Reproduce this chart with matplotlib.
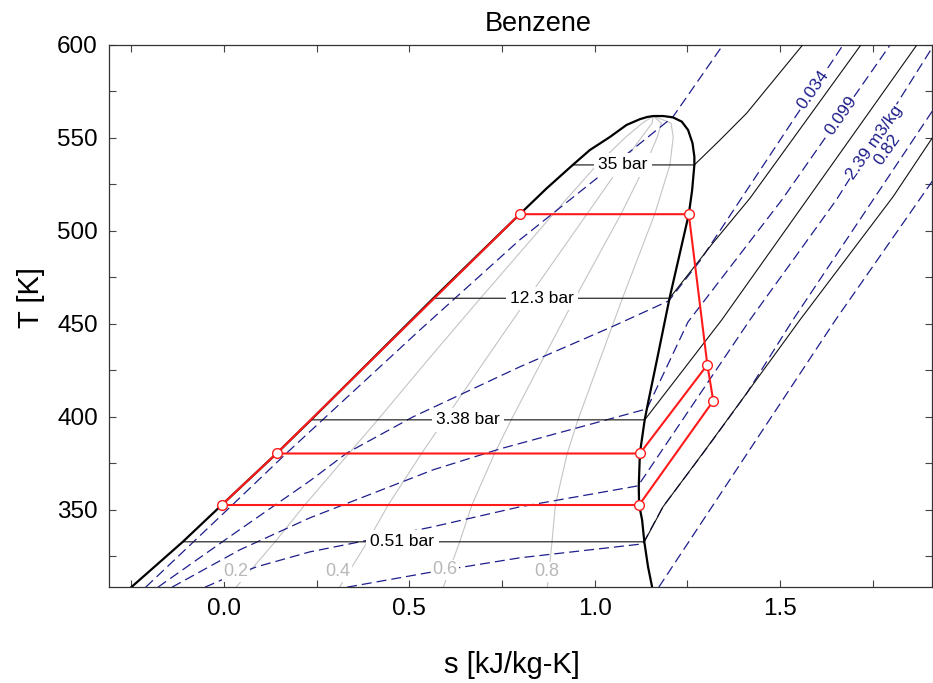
import matplotlib
matplotlib.use("Agg")
import matplotlib.pyplot as plt
from matplotlib.ticker import MultipleLocator, FormatStrFormatter

plt.rcParams['font.family'] = ['Liberation Sans', 'DejaVu Sans']

# ---- saturation dome (liquid branch up to the critical point, then vapour branch down)
s_liq = [-0.255, -0.111, -0.006, 0.142, 0.235, 0.565, 0.798, 0.870, 0.941, 0.987, 1.041,
         1.086, 1.122, 1.142, 1.158]
T_liq = [307.5, 332.8, 352.6, 380.3, 398.4, 463.8, 509.0, 522.8, 535.5, 543.5, 550.5,
         557.0, 560.1, 561.3, 561.8]
s_vap = [1.158, 1.185, 1.211, 1.235, 1.252, 1.264, 1.269, 1.269, 1.263, 1.254, 1.202, 1.168,
         1.144, 1.135, 1.122, 1.119, 1.120, 1.128, 1.134, 1.144, 1.156]
T_vap = [561.8, 561.8, 561.1, 558.8, 554.3, 547.2, 539.9, 535.5, 522.0, 509.0, 463.8, 430.6,
         407.5, 398.4, 380.3, 362.4, 352.6, 344.6, 332.8, 319.4, 307.5]

# ---- constant-quality lines
q_levels = ["0.2", "0.4", "0.6", "0.8"]
q_T = [307.5, 332.8, 352.6, 380.3, 398.4, 430.6, 463.8, 509.0, 535.5, 550.5, 558.0, 561.8]
q_s = [
    [0.029, 0.138, 0.218, 0.337, 0.415, 0.550, 0.692, 0.888, 1.006, 1.084, 1.129, 1.158],
    [0.309, 0.387, 0.443, 0.533, 0.595, 0.705, 0.820, 0.979, 1.072, 1.127, 1.155, 1.158],
    [0.590, 0.636, 0.669, 0.730, 0.775, 0.859, 0.947, 1.071, 1.137, 1.169, 1.180, 1.158],
    [0.872, 0.885, 0.894, 0.926, 0.955, 1.014, 1.075, 1.162, 1.203, 1.212, 1.206, 1.158],
]
q_label_s = [0.032, 0.307, 0.596, 0.870]
q_label_T = [316.8, 316.8, 317.8, 316.8]

# ---- isobars
p_labels = ["35 bar", "12.3 bar", "3.38 bar", "0.51 bar"]
p_s = [
    [0.941, 1.269, 1.338, 1.410, 1.491, 1.561],
    [0.565, 1.202, 1.319, 1.419, 1.718],
    [0.235, 1.135, 1.343, 1.869],
    [-0.111, 1.134, 1.185, 1.302, 1.410, 1.554, 1.805, 1.913],
]
p_T = [
    [535.5, 535.5, 548.9, 563.3, 583.0, 600.0],
    [463.8, 463.8, 493.5, 517.6, 600.0],
    [398.4, 398.4, 452.2, 600.0],
    [332.8, 332.8, 351.8, 383.2, 412.7, 452.2, 518.4, 550.7],
]
p_label_s = [1.076, 0.859, 0.658, 0.4815]
p_label_T = [535.5, 463.8, 398.4, 332.8]

# ---- isochores
v_s = [
    [-0.211, 0.021, 0.169, 0.529, 0.798, 1.014, 1.211, 1.346],
    [-0.178, 0.030, 0.232, 0.332, 0.510, 0.798, 1.046, 1.200, 1.284, 1.670],
    [-0.140, 0.043, 0.232, 0.564, 0.745, 1.141, 1.252, 1.505, 1.797],
    [-0.051, -0.005, 0.089, 0.232, 0.367, 0.564, 0.798, 1.117, 1.419, 1.652, 1.910],
    [0.332, 0.548, 0.798, 1.130, 1.184, 1.303, 1.411, 1.535, 1.751, 1.913],
    [1.173, 1.650, 1.913],
]
v_T = [
    [308.4, 352.3, 380.5, 446.8, 495.2, 529.6, 561.3, 600.0],
    [308.4, 337.6, 365.6, 380.6, 400.0, 426.9, 448.4, 462.4, 483.9, 600.0],
    [308.4, 328.5, 345.7, 371.5, 382.8, 404.3, 451.1, 516.7, 600.0],
    [308.4, 312.4, 319.4, 327.4, 332.8, 340.9, 351.6, 362.9, 452.2, 516.7, 598.4],
    [308.4, 316.1, 324.2, 331.7, 351.6, 383.3, 412.9, 452.2, 516.7, 565.1],
    [308.4, 452.2, 527.4],
]
v_labels = ["0.034", "0.099", "2.39 m3/kg", "0.82"]
v_label_s = [1.590, 1.664, 1.756, 1.789]
v_label_T = [575.8, 561.8, 547.5, 543.5]

# ---- cycle state points
st_s = {"A": -0.006, "B": 0.142, "C": 0.798, "D": 1.254, "E": 1.304, "F": 1.320, "G": 1.122, "H": 1.120}
st_T = {"A": 352.6, "B": 380.3, "C": 509.0, "D": 509.0, "E": 428.0, "F": 408.6, "G": 380.3, "H": 352.6}
main_path = ["A", "B", "C", "D", "E", "F", "H", "A"]
branch_path = ["E", "G", "B"]

navy = "#1e1e8c"
red = "#ff1a1a"

fig = plt.figure(figsize=(9.33, 6.83), dpi=100)
ax = fig.add_axes([109 / 933, (683 - 587) / 683, (932 - 109) / 933, (587 - 45) / 683])

for qs in q_s:
    ax.plot(qs, q_T, color="#c4c4c4", lw=0.8, zorder=1)
for txt, xs, ys in zip(q_levels, q_label_s, q_label_T):
    ax.text(xs, ys, txt, color="#b8b8b8", fontsize=13, ha="center", va="center", zorder=6,
            bbox=dict(facecolor="white", edgecolor="none", pad=1.0))

for vs, vT in zip(v_s, v_T):
    ax.plot(vs, vT, color=navy, lw=0.9, linestyle=(0, (8, 4)), zorder=2)
for txt, xs, ys in zip(v_labels, v_label_s, v_label_T):
    ax.text(xs, ys, txt, color=navy, fontsize=12.5, ha="center", va="center", rotation=55,
            rotation_mode="anchor", zorder=6,
            bbox=dict(facecolor="white", edgecolor="none", pad=0.5))

for ps, pT in zip(p_s, p_T):
    ax.plot(ps, pT, color="#111111", lw=0.8, zorder=3)
for txt, xs, ys in zip(p_labels, p_label_s, p_label_T):
    ax.text(xs, ys, txt, color="black", fontsize=12.5, ha="center", va="center", zorder=6,
            bbox=dict(facecolor="white", edgecolor="none", pad=3.0))

ax.plot(s_liq + s_vap, T_liq + T_vap, color="black", lw=1.6, zorder=4)

for path in (main_path, branch_path):
    ax.plot([st_s[k] for k in path], [st_T[k] for k in path], color=red, lw=1.5, zorder=7)
ax.plot(list(st_s.values()), list(st_T.values()), linestyle="none", marker="o", ms=7,
        mfc="white", mec=red, mew=1.0, zorder=8)

ax.set_xlim(-0.310, 1.910)
ax.set_ylim(308.5, 600)
ax.xaxis.set_major_locator(MultipleLocator(0.5))
ax.xaxis.set_minor_locator(MultipleLocator(0.25))
ax.yaxis.set_major_locator(MultipleLocator(50))
ax.yaxis.set_minor_locator(MultipleLocator(25))
ax.xaxis.set_major_formatter(FormatStrFormatter("%.1f"))
ax.tick_params(which="both", direction="in", top=True, right=True, length=5, width=0.8,
               color="#444444")
ax.tick_params(which="major", labelsize=17.5, pad=8)
for sp in ax.spines.values():
    sp.set_color("#333333")
    sp.set_linewidth(0.9)

ax.set_xlabel("s [kJ/kg-K]", fontsize=21)
ax.set_ylabel("T [K]", fontsize=21)
ax.xaxis.set_label_coords(0.49, -0.118)
ax.yaxis.set_label_coords(-0.078, 0.535)
ax.set_title("Benzene", fontsize=19.5, x=0.521, pad=10)

fig.savefig("out.png", dpi=100)
